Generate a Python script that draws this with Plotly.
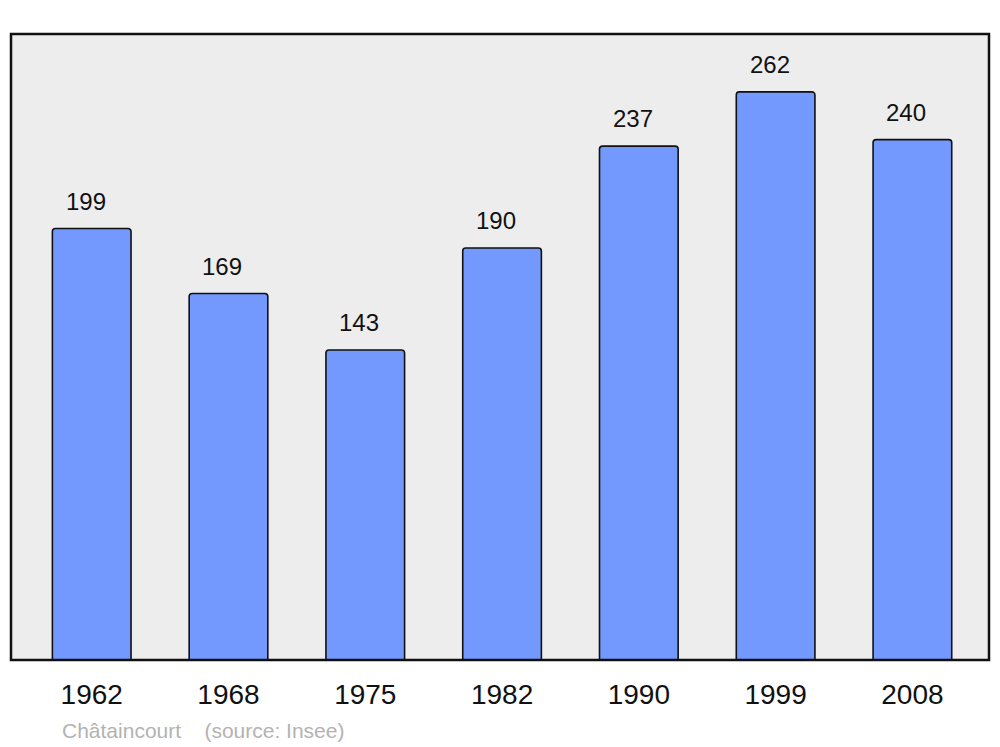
import plotly.graph_objects as go

years = ["1962", "1968", "1975", "1982", "1990", "1999", "2008"]
population = [199, 169, 143, 190, 237, 262, 240]
caption = "Châtaincourt    (source: Insee)"

FONT = "Liberation Sans, Arial, sans-serif"

fig = go.Figure()
fig.add_trace(go.Bar(
    x=list(range(len(years))), y=population, width=0.575,
    marker=dict(color="#7399ff", line=dict(color="#111111", width=1.6), cornerradius=3),
    hoverinfo="skip",
))

for i, v in enumerate(population):
    fig.add_annotation(x=i, y=v, text=str(v), showarrow=False, yanchor="bottom",
                       xshift=-6, yshift=12,
                       font=dict(family=FONT, size=24, color="#111111"))

fig.add_annotation(xref="paper", yref="paper", x=(60 - 11) / 978, y=(660 - 730) / 626,
                   xanchor="left", yanchor="middle", text=caption, showarrow=False,
                   font=dict(family=FONT, size=21, color="#b3b3b3"))

fig.add_shape(type="rect", xref="paper", yref="paper", x0=0, y0=0, x1=1, y1=1,
              line=dict(color="#111111", width=2.5), layer="above")

fig.update_layout(
    width=1000, height=747,
    margin=dict(l=11, r=11, t=34, b=87),
    paper_bgcolor="white", plot_bgcolor="#ededed",
    showlegend=False,
    xaxis=dict(range=[-0.59, 6.56], tickmode="array", tickvals=list(range(len(years))),
               ticktext=years, showgrid=False, zeroline=False, showline=False, ticks="",
               ticklabelstandoff=15,
               tickfont=dict(family=FONT, size=28, color="#111111")),
    yaxis=dict(range=[0, 288.7], showgrid=False, zeroline=False, showticklabels=False,
               showline=False, ticks=""),
)

fig.write_html("out.html", config={"displayModeBar": False},
               post_script="document.body.style.margin='0';document.body.style.overflow='hidden';")
